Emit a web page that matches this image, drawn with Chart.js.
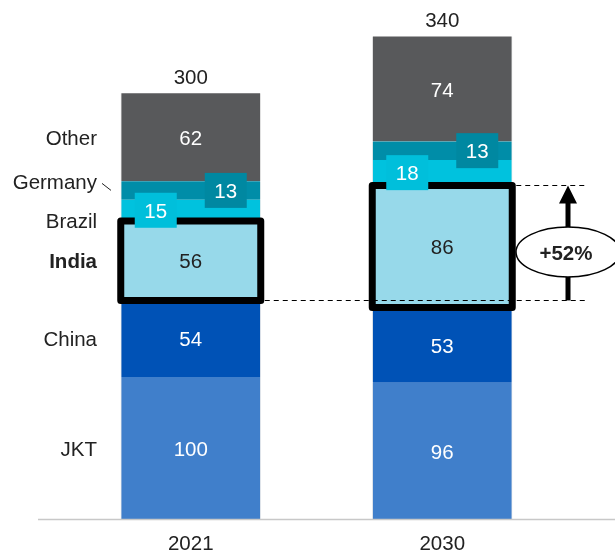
<!DOCTYPE html>
<html>
<head>
<meta charset="utf-8">
<script src="https://cdn.jsdelivr.net/npm/chart.js@4/dist/chart.umd.min.js"></script>
<style>
  html, body { margin: 0; padding: 0; background: #ffffff; }
  #wrap { width: 615px; height: 552px; position: relative; }
</style>
</head>
<body>
<div id="wrap"><canvas id="c" width="615" height="552"></canvas></div>
<script>
// Categories and series (stack order bottom to top)
const years = ['2021', '2030'];
const seriesNames = ['JKT', 'China', 'India', 'Brazil', 'Germany', 'Other'];
const jkt = [100, 96];
const china = [54, 53];
const india = [56, 86];
const brazil = [15, 18];
const germany = [13, 13];
const other = [62, 74];
const totals = [300, 340];
const growthLabel = '+52%';

const colors = ['#407fcb', '#0052b6', '#97d9ea', '#00c2de', '#008da8', '#58595b'];
const boxColors = { Brazil: '#00bfdb', Germany: '#0088a1' };
const valueTextColors = ['#ffffff', '#ffffff', '#222222', '#ffffff', '#ffffff', '#ffffff'];
const FONT = '"Liberation Sans", Arial, Helvetica, sans-serif';
const FS = 20.5;

const seriesValues = [jkt, china, india, brazil, germany, other];

const datasets = seriesNames.map((name, i) => ({
  label: name,
  data: seriesValues[i],
  backgroundColor: colors[i],
  borderColor: 'rgba(225,225,225,0.6)',
  borderWidth: { left: 1, right: 1, top: 0, bottom: 0 },
  borderSkipped: false,
  barThickness: 140
}));

const annotate = {
  id: 'annotate',
  afterDatasetsDraw(chart) {
    const ctx = chart.ctx;
    const area = chart.chartArea;
    const y = chart.scales.y;
    const segs = chart.data.datasets.map((d, i) => chart.getDatasetMeta(i).data);

    ctx.save();
    // baseline axis
    ctx.strokeStyle = '#c8c8c8';
    ctx.lineWidth = 1.5;
    ctx.beginPath();
    ctx.moveTo(38, area.bottom + 0.5);
    ctx.lineTo(615, area.bottom + 0.5);
    ctx.stroke();

    ctx.textAlign = 'center';
    ctx.textBaseline = 'middle';
    ctx.font = FS + 'px ' + FONT;

    // thick frames round the India segment
    const iIdx = seriesNames.indexOf('India');
    segs[iIdx].forEach(bar => {
      const p = bar.getProps(['x', 'y', 'base', 'width'], true);
      ctx.strokeStyle = '#000000';
      ctx.lineWidth = 7;
      ctx.lineJoin = 'round';
      ctx.strokeRect(p.x - p.width / 2, p.y, p.width, p.base - p.y);
    });

    // values inside segments
    seriesNames.forEach((name, s) => {
      segs[s].forEach((bar, k) => {
        const p = bar.getProps(['x', 'y', 'base', 'width'], true);
        const cy = (p.y + p.base) / 2;
        const v = seriesValues[s][k];
        if (name === 'Brazil' || name === 'Germany') {
          const dx = name === 'Brazil' ? -35 : 35;
          ctx.fillStyle = boxColors[name];
          ctx.fillRect(p.x + dx - 21, cy - 17.5, 42, 35);
          ctx.fillStyle = '#ffffff';
          ctx.fillText(String(v), p.x + dx, cy + 2);
        } else {
          ctx.fillStyle = valueTextColors[s];
          ctx.fillText(String(v), p.x, cy + 2);
        }
      });
    });

    // totals above bars
    ctx.fillStyle = '#222222';
    segs[segs.length - 1].forEach((bar, k) => {
      ctx.fillText(String(totals[k]), bar.x, y.getPixelForValue(totals[k]) - 15);
    });

    // series names at left, aligned to the 2021 segments
    const nameShift = { Germany: -9, Brazil: 10 };
    ctx.textAlign = 'right';
    seriesNames.forEach((name, s) => {
      const p = segs[s][0].getProps(['y', 'base'], true);
      const cy = (p.y + p.base) / 2 + (nameShift[name] || 0) + 2;
      ctx.font = (name === 'India' ? 'bold ' : '') + FS + 'px ' + FONT;
      ctx.fillStyle = '#222222';
      ctx.fillText(name, 97, cy);
      if (name === 'Germany') {
        ctx.strokeStyle = '#222222';
        ctx.lineWidth = 1;
        ctx.beginPath();
        ctx.moveTo(102, cy);
        ctx.lineTo(111, cy + 7);
        ctx.stroke();
      }
    });

    // dashed guides from India 2021 bottom and India 2030 top to the arrow
    const ind21 = segs[iIdx][0].getProps(['x', 'y', 'base', 'width'], true);
    const ind30 = segs[iIdx][1].getProps(['x', 'y', 'base', 'width'], true);
    const ax = 568;
    ctx.strokeStyle = '#000000';
    ctx.lineWidth = 1;
    ctx.setLineDash([5, 4]);
    ctx.beginPath();
    ctx.moveTo(ind21.x + ind21.width / 2 + 4, Math.round(ind21.base) + 0.5);
    ctx.lineTo(586, Math.round(ind21.base) + 0.5);
    ctx.moveTo(ind30.x + ind30.width / 2 + 4, Math.round(ind30.y) + 0.5);
    ctx.lineTo(586, Math.round(ind30.y) + 0.5);
    ctx.stroke();
    ctx.setLineDash([]);

    // growth arrow
    ctx.lineWidth = 5;
    ctx.beginPath();
    ctx.moveTo(ax, ind21.base);
    ctx.lineTo(ax, ind30.y + 15);
    ctx.stroke();
    ctx.fillStyle = '#000000';
    ctx.beginPath();
    ctx.moveTo(ax, ind30.y);
    ctx.lineTo(ax - 9, ind30.y + 18);
    ctx.lineTo(ax + 9, ind30.y + 18);
    ctx.closePath();
    ctx.fill();

    // ellipse callout
    const ey = 252;
    ctx.beginPath();
    ctx.ellipse(ax, ey, 52, 25, 0, 0, Math.PI * 2);
    ctx.fillStyle = '#ffffff';
    ctx.fill();
    ctx.lineWidth = 1.5;
    ctx.strokeStyle = '#000000';
    ctx.stroke();
    ctx.fillStyle = '#222222';
    ctx.textAlign = 'center';
    ctx.font = 'bold ' + FS + 'px ' + FONT;
    ctx.fillText(growthLabel, ax - 2, ey + 2);

    ctx.restore();
  }
};

new Chart(document.getElementById('c'), {
  type: 'bar',
  data: { labels: years, datasets },
  options: {
    responsive: false,
    animation: false,
    events: [],
    layout: { padding: { left: 65, right: 47, top: 8, bottom: 0 } },
    plugins: { legend: { display: false }, tooltip: { enabled: false } },
    scales: {
      x: {
        stacked: true,
        grid: { display: false, drawTicks: false },
        border: { display: false },
        ticks: { color: '#222222', padding: 13, font: { family: FONT, size: FS } },
        afterFit(scale) { scale.height = 33; }
      },
      y: {
        stacked: true,
        display: false,
        min: 0,
        max: 360
      }
    }
  },
  plugins: [annotate]
});
</script>
</body>
</html>
